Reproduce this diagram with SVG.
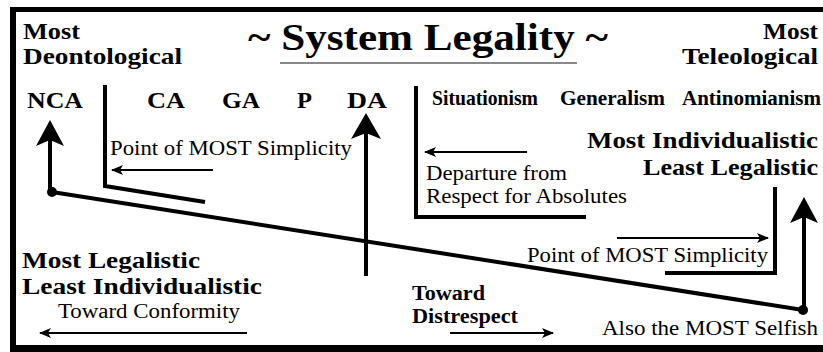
<svg xmlns="http://www.w3.org/2000/svg" width="823" height="352" viewBox="0 0 823 352">
<defs>
<style>
.b{font-family:'Liberation Serif',serif;font-weight:700;fill:#000}
.r{font-family:'Liberation Serif',serif;font-weight:400;fill:#000}
.thick{stroke:#000;stroke-width:4;fill:none}
.thin{stroke:#000;stroke-width:2;fill:none;marker-end:url(#ah)}
</style>
<marker id="ah" viewBox="0 0 12 10" refX="11" refY="5" markerWidth="12" markerHeight="10" markerUnits="userSpaceOnUse" orient="auto">
<path d="M0,0 L12,5 L0,10 L3,5 Z" fill="#000"/>
</marker>
</defs>
<rect width="823" height="352" fill="#fff"/>
<g id="frame" fill="#000">
<rect x="10" y="7" width="813" height="5"/>
<rect x="10" y="7" width="6" height="345"/>
<rect x="10" y="345" width="813" height="7"/>
</g>
<g id="title">
<text class="b" x="248" y="50" font-size="38" textLength="360" lengthAdjust="spacingAndGlyphs">~ System Legality ~</text>
<line x1="280" y1="63" x2="577" y2="63" stroke="#888" stroke-width="2"/>
</g>
<g id="corner-left">
<text class="b" x="23" y="39" font-size="23" textLength="57" lengthAdjust="spacingAndGlyphs">Most</text>
<text class="b" x="23" y="64" font-size="23" textLength="159" lengthAdjust="spacingAndGlyphs">Deontological</text>
</g>
<g id="corner-right">
<text class="b" x="763" y="39" font-size="23" textLength="55" lengthAdjust="spacingAndGlyphs">Most</text>
<text class="b" x="682" y="64" font-size="23" textLength="136" lengthAdjust="spacingAndGlyphs">Teleological</text>
</g>
<g id="systems-left">
<text class="b" x="27" y="108" font-size="23" textLength="56" lengthAdjust="spacingAndGlyphs">NCA</text>
<text class="b" x="147" y="108" font-size="23" textLength="38" lengthAdjust="spacingAndGlyphs">CA</text>
<text class="b" x="222" y="108" font-size="23" textLength="38" lengthAdjust="spacingAndGlyphs">GA</text>
<text class="b" x="297" y="108" font-size="23" textLength="15" lengthAdjust="spacingAndGlyphs">P</text>
<text class="b" x="347" y="108" font-size="23" textLength="40" lengthAdjust="spacingAndGlyphs">DA</text>
</g>
<g id="systems-right">
<text class="b" x="432" y="105" font-size="21" textLength="106" lengthAdjust="spacingAndGlyphs">Situationism</text>
<text class="b" x="560" y="105" font-size="21" textLength="105" lengthAdjust="spacingAndGlyphs">Generalism</text>
<text class="b" x="682" y="105" font-size="21" textLength="139" lengthAdjust="spacingAndGlyphs">Antinomianism</text>
</g>
<g id="most-individualistic">
<text class="b" x="587" y="148" font-size="23" textLength="231" lengthAdjust="spacingAndGlyphs">Most Individualistic</text>
<text class="b" x="643" y="175" font-size="23" textLength="175" lengthAdjust="spacingAndGlyphs">Least Legalistic</text>
</g>
<g id="most-legalistic">
<text class="b" x="22" y="268" font-size="24" textLength="178" lengthAdjust="spacingAndGlyphs">Most Legalistic</text>
<text class="b" x="22" y="294" font-size="23" textLength="240" lengthAdjust="spacingAndGlyphs">Least Individualistic</text>
</g>
<g id="simplicity-left">
<text class="r" x="110" y="155" font-size="22" textLength="242" lengthAdjust="spacingAndGlyphs">Point of MOST Simplicity</text>
</g>
<g id="departure">
<text class="r" x="426" y="180" font-size="21" textLength="141" lengthAdjust="spacingAndGlyphs">Departure from</text>
<text class="r" x="426" y="203" font-size="21" textLength="201" lengthAdjust="spacingAndGlyphs">Respect for Absolutes</text>
</g>
<g id="simplicity-right">
<text class="r" x="527" y="262" font-size="22" textLength="241" lengthAdjust="spacingAndGlyphs">Point of MOST Simplicity</text>
</g>
<g id="conformity">
<text class="r" x="58" y="318" font-size="20" textLength="182" lengthAdjust="spacingAndGlyphs">Toward Conformity</text>
</g>
<g id="distrespect">
<text class="b" x="412" y="300" font-size="20" textLength="73" lengthAdjust="spacingAndGlyphs">Toward</text>
<text class="b" x="412" y="323" font-size="20" textLength="106" lengthAdjust="spacingAndGlyphs">Distrespect</text>
</g>
<g id="selfish">
<text class="r" x="602" y="335" font-size="22" textLength="216" lengthAdjust="spacingAndGlyphs">Also the MOST Selfish</text>
</g>
<g id="connectors">
<line class="thick" x1="52" y1="192" x2="803" y2="310"/>
<circle cx="52" cy="192" r="5" fill="#000"/>
<circle cx="803" cy="310" r="5" fill="#000"/>
<line class="thick" x1="50" y1="192" x2="50" y2="138"/>
<polygon points="50,120 64,146 50,140 36,146" fill="#000"/>
<line class="thick" x1="366" y1="276" x2="366" y2="132"/>
<polygon points="366,113 381,139 366,133 351,139" fill="#000"/>
<line class="thick" x1="804" y1="310" x2="804" y2="215"/>
<polygon points="804,197 818,223 804,217 790,223" fill="#000"/>
<polyline class="thick" points="105,85 105,186 205,202"/>
<polyline class="thick" points="416,86 416,217 586,217"/>
<polyline class="thick" points="775,187 775,273 665,273"/>
<line class="thin" x1="213" y1="170" x2="112" y2="170"/>
<line class="thin" x1="527" y1="152" x2="425" y2="152"/>
<line class="thin" x1="617" y1="238" x2="768" y2="238"/>
<line class="thin" x1="247" y1="333" x2="40" y2="333"/>
<line class="thin" x1="450" y1="333" x2="553" y2="333"/>
</g>
</svg>
